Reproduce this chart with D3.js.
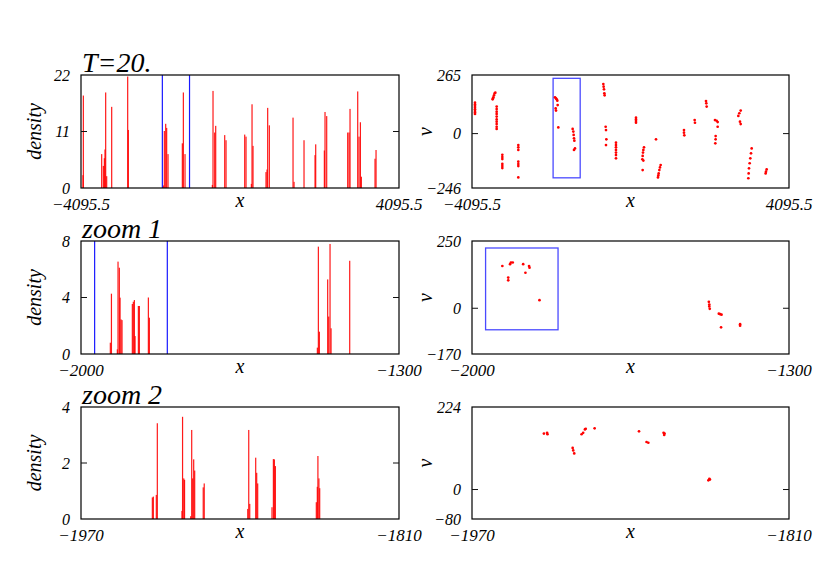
<!DOCTYPE html>
<html><head><meta charset="utf-8">
<script src="https://cdn.jsdelivr.net/npm/d3@7"></script>
<style>
body{margin:0;background:#fff}
svg text{font-family:"Liberation Serif","Times New Roman",serif;font-style:italic;fill:#000}
</style>
</head><body><svg id="c" width="830" height="587"></svg>
<script>
// ---------- data ----------
const titles = ["T=20.", "zoom 1", "zoom 2"];
const xDomains = [[-4095.5, 4095.5], [-2000, -1300], [-1970, -1810]];
const densityDomains = [[0, 22], [0, 8], [0, 4]];
const vDomains = [[-246, 265], [-170, 250], [-80, 224]];
const xTickLabels = [["−4095.5", "4095.5"], ["−2000", "−1300"], ["−1970", "−1810"]];
const densityTicks = [[0, 11, 22], [0, 4, 8], [0, 2, 4]];
const vTicks = [[-246, 0, 265], [-170, 0, 250], [-80, 0, 224]];
const binWidths = [30, 2.6, 0.6];

// density bars [x, height]
const barsT20 = [[-4044,2.5],[-4035,18.0],[-3563,6.6],[-3520,4.3],[-3494,5.8],[-3477,7.5],[-3460,18.6],[-3434,2.3],
 [-3305,15.8],[-2893,21.7],[-2876,11.3],[-1974,0.5],[-1949,11.1],[-1914,12.5],[-1889,11.7],[-1854,6.6],
 [-1485,8.7],[-1459,18.6],[-1416,6.6],[-712,0.6],[-695,18.9],[-652,10.8],[-626,12.1],[-394,10.3],[-360,9.3],
 [121,10.4],[155,10.0],[293,0.8],[310,16.3],[335,8.2],[670,3.1],[696,3.6],[713,15.6],[756,12.2],
 [1366,13.7],[1392,1.2],[1649,9.3],[1933,6.4],[1950,8.5],[2173,7.3],[2190,14.8],[2233,14.0],
 [2774,10.8],[2809,10.8],[2834,15.4],[3032,18.8],[3066,10.0],[3101,12.8],[3126,2.2],[3478,5.7],[3504,7.4]];
const barsZoom1 = [[-1935.4,0.8],[-1933,4.27],[-1920,0.33],[-1918.5,6.54],[-1915.6,6.11],[-1914,3.99],[-1911.9,2.45],
 [-1909.7,2.4],[-1887,3.54],[-1884.8,3.7],[-1882.5,3.82],[-1881,1.27],[-1873.7,3.4],[-1871.5,3.4],[-1851.7,4.0],
 [-1849.5,2.57],[-1479.7,0.45],[-1477.5,7.6],[-1475.3,1.58],[-1457,5.28],[-1454.7,2.65],[-1451.8,7.79],
 [-1449.6,1.82],[-1408.5,6.6]];
const barsZoom2 = [[-1934.1,0.77],[-1933.6,0.8],[-1932.1,0.86],[-1931.6,3.42],[-1919.2,0.29],[-1918.9,3.65],
 [-1918.3,1.45],[-1917.9,1.4],[-1914.8,0.1],[-1914.3,3.18],[-1913.8,1.45],[-1913.3,2.13],[-1912.8,1.73],
 [-1908.5,1.13],[-1908,1.27],[-1886.1,0.36],[-1885.6,3.18],[-1885.1,0.54],[-1882.1,2.19],[-1881.6,1.65],
 [-1881.1,1.27],[-1873.9,0.42],[-1873.2,2.14],[-1872.7,2.13],[-1872.2,1.89],[-1851.6,0.6],[-1851.1,1.15],
 [-1850.8,2.25],[-1850.3,1.45],[-1849.9,1.1]];

// phase-space points [x, v]
const ptsT20 = [[-4018,140],[-4018,132],[-4018,125],[-4018,117],[-4018,110],[-4018,102],[-4018,95],[-4018,89],
 [-3562,155],[-3553,159],[-3544,164],[-3527,173],[-3510,182],[-3493,185],
 [-3458,122],[-3458,111],[-3458,99],[-3458,89],[-3458,77],[-3458,64],[-3458,54],[-3458,43],[-3458,31],[-3458,21],
 [-3312,-96],[-3312,-106],[-3312,-115],[-3312,-137],[-3312,-147],[-3312,-156],
 [-2899,-52],[-2899,-62],[-2899,-74],[-2899,-127],[-2899,-138],[-2899,-147],[-2899,-198],
 [-1951,164],[-1925,159],[-1908,155],[-1891,149],[-1934,114],[-1925,104],[-1882,129],[-1865,28],
 [-1495,21],[-1477,9],[-1469,-6],[-1460,-21],[-1451,-32],[-1434,-67],[-1460,-74],
 [-702,224],[-694,212],[-685,200],[-676,182],[-668,173],
 [-642,31],[-633,16],[-624,-26],[-633,-52],
 [-375,-41],[-375,-52],[-375,-62],[-375,-74],[-375,-86],[-375,-97],[-375,-112],
 [142,72],[142,64],[142,57],[142,49],
 [349,-62],[332,-74],[323,-86],[314,-101],[306,-116],[332,-122],[314,-165],
 [659,-26],
 [779,-142],[762,-153],[745,-165],[728,-180],[719,-189],[710,-198],
 [1382,16],[1382,4],[1391,-8],
 [1658,61],[1666,49],
 [1951,147],[1959,137],[1968,122],
 [2183,61],[2226,58],[2252,52],[2252,31],[2200,-11],[2200,-26],[2192,-44],
 [2847,104],[2812,92],[2786,80],[2829,54],[2847,43],
 [3131,-67],[3114,-89],[3096,-112],[3079,-134],[3062,-157],[3053,-180],[3045,-202],
 [3518,-162],[3501,-172],[3492,-180]];
const ptsZoom1 = [[-1933,157],[-1916,164],[-1914,170],[-1910,170],[-1920,114],[-1920,104],[-1887,164],[-1882,132],
 [-1874,157],[-1873,151],[-1851,30],[-1477,24],[-1476,14],[-1476,7],[-1475,-2],[-1455,-20],[-1452,-22],[-1449,-24],
 [-1450,-71],[-1408,-59],[-1408,-65]];
const ptsZoom2 = [[-1933.7,152],[-1932.1,154],[-1931.9,150],[-1919.2,113],[-1918.9,106],[-1918.4,98],
 [-1914.7,150],[-1913.9,154],[-1913.0,163],[-1912.6,165],[-1908.1,166],[-1885.7,158],[-1881.9,129],[-1881.0,127],
 [-1873.3,154],[-1873.0,148],[-1872.8,152],[-1850.7,25],[-1850.2,29],[-1849.9,27]];

// zoom markers
const zoomLines = [[-2000, -1300], [-1970, -1810], null];
const zoomRects = [[-2000, -1300, -200, 250], [-1970, -1810, -80, 224], null];

const barSets = [barsT20, barsZoom1, barsZoom2];
const ptSets = [ptsT20, ptsZoom1, ptsZoom2];

// ---------- layout ----------
const leftX = [81, 399], rightX = [472, 789];
const rowTop = [75, 241, 407], rowH = [113, 113, 112];

const svg = d3.select("#c");
const fmt = v => (v < 0 ? "−" + Math.abs(v) : String(v));

function frame(g, x0, x1, y0, y1) {
  g.append("rect").attr("x", x0).attr("y", y0).attr("width", x1 - x0).attr("height", y1 - y0)
    .attr("fill", "none").attr("stroke", "#000").attr("stroke-width", 1.2);
}

for (let r = 0; r < 3; r++) {
  const y0 = rowTop[r], y1 = rowTop[r] + rowH[r];
  // ----- left: density -----
  const gl = svg.append("g");
  const xl = d3.scaleLinear().domain(xDomains[r]).range(leftX);
  const yl = d3.scaleLinear().domain(densityDomains[r]).range([y1, y0]);
  const bw = Math.max(1.2, xl(xDomains[r][0] + binWidths[r]) - xl(xDomains[r][0]));
  const clipId = "cl" + r;
  gl.append("clipPath").attr("id", clipId).append("rect")
    .attr("x", leftX[0]).attr("y", y0).attr("width", leftX[1] - leftX[0]).attr("height", y1 - y0);
  gl.append("g").attr("clip-path", `url(#${clipId})`).selectAll("rect").data(barSets[r]).join("rect")
    .attr("x", d => xl(d[0]) - bw / 2).attr("width", bw)
    .attr("y", d => yl(d[1])).attr("height", d => yl(0) - yl(d[1]))
    .attr("fill", "#ff0000").attr("fill-opacity", 0.9);
  if (zoomLines[r]) {
    gl.selectAll("line.zl").data(zoomLines[r]).join("line").attr("class", "zl")
      .attr("x1", d => xl(d)).attr("x2", d => xl(d)).attr("y1", y0).attr("y2", y1)
      .attr("stroke", "#1a1aff").attr("stroke-width", 1.2);
  }
  frame(gl, leftX[0], leftX[1], y0, y1);
  const mid = densityTicks[r][1];
  gl.append("line").attr("x1", leftX[0]).attr("x2", leftX[0] + 6).attr("y1", yl(mid)).attr("y2", yl(mid)).attr("stroke", "#111");
  gl.append("line").attr("x1", leftX[1] - 6).attr("x2", leftX[1]).attr("y1", yl(mid)).attr("y2", yl(mid)).attr("stroke", "#111");
  gl.selectAll("text.yt").data(densityTicks[r]).join("text").attr("class", "yt")
    .attr("x", leftX[0] - 11).attr("y", d => yl(d) + 5.5).attr("text-anchor", "end")
    .attr("font-size", 16).text(fmt);
  gl.selectAll("text.xt").data(xDomains[r]).join("text").attr("class", "xt")
    .attr("x", d => xl(d)).attr("y", y1 + 22).attr("text-anchor", "middle")
    .attr("font-size", 17).text((d, i) => xTickLabels[r][i]);
  gl.append("text").attr("x", (leftX[0] + leftX[1]) / 2).attr("y", y1 + 19).attr("text-anchor", "middle")
    .attr("font-size", 20).text("x");
  gl.append("text").attr("transform", `translate(41,${(y0 + y1) / 2}) rotate(-90)`)
    .attr("text-anchor", "middle").attr("font-size", 20).text("density");
  gl.append("text").attr("x", 82).attr("y", y0 - 3).attr("font-size", 28).text(titles[r]);

  // ----- right: phase space -----
  const gr = svg.append("g");
  const xr = d3.scaleLinear().domain(xDomains[r]).range(rightX);
  const yr = d3.scaleLinear().domain(vDomains[r]).range([y1, y0]);
  if (zoomRects[r]) {
    const q = zoomRects[r];
    gr.append("rect").attr("x", xr(q[0])).attr("y", yr(q[3]))
      .attr("width", xr(q[1]) - xr(q[0])).attr("height", yr(q[2]) - yr(q[3]))
      .attr("fill", "none").attr("stroke", "#4a4aff").attr("stroke-width", 1.3);
  }
  gr.selectAll("circle").data(ptSets[r]).join("circle")
    .attr("cx", d => xr(d[0])).attr("cy", d => yr(d[1])).attr("r", 1.35).attr("fill", "#ff0000");
  frame(gr, rightX[0], rightX[1], y0, y1);
  gr.append("line").attr("x1", rightX[0]).attr("x2", rightX[0] + 6).attr("y1", yr(0)).attr("y2", yr(0)).attr("stroke", "#111");
  gr.append("line").attr("x1", rightX[1] - 6).attr("x2", rightX[1]).attr("y1", yr(0)).attr("y2", yr(0)).attr("stroke", "#111");
  gr.selectAll("text.yt").data(vTicks[r]).join("text").attr("class", "yt")
    .attr("x", rightX[0] - 11).attr("y", d => yr(d) + 5.5).attr("text-anchor", "end")
    .attr("font-size", 16).text(fmt);
  gr.selectAll("text.xt").data(xDomains[r]).join("text").attr("class", "xt")
    .attr("x", d => xr(d)).attr("y", y1 + 22).attr("text-anchor", "middle")
    .attr("font-size", 17).text((d, i) => xTickLabels[r][i]);
  gr.append("text").attr("x", (rightX[0] + rightX[1]) / 2).attr("y", y1 + 19).attr("text-anchor", "middle")
    .attr("font-size", 20).text("x");
  gr.append("text").attr("transform", `translate(432,${(y0 + y1) / 2}) rotate(-90)`)
    .attr("text-anchor", "middle").attr("font-size", 20).text("v");
}
</script>
</body></html>
